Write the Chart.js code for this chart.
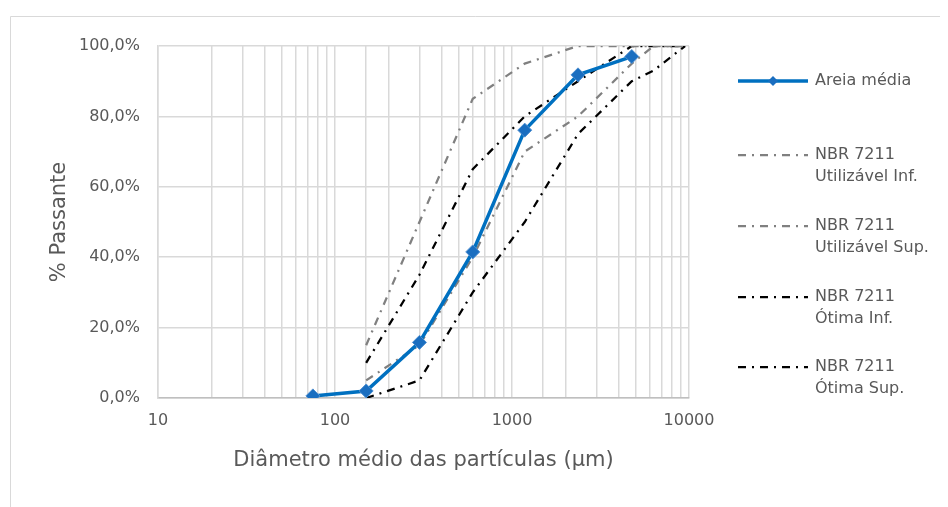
<!DOCTYPE html>
<html>
<head>
<meta charset="utf-8">
<script src="https://cdn.jsdelivr.net/npm/chart.js@4"></script>
<style>
  html, body { margin: 0; padding: 0; background: #fff; }
  #wrap { position: relative; width: 948px; height: 507px; }
</style>
</head>
<body>
<div id="wrap"><canvas id="granChart" width="948" height="507"></canvas></div>
<script>
// Peneiras (µm) e % passante
const sieveSample = [75, 150, 300, 600, 1180, 2360, 4750];
const sieveLimits = [150, 300, 600, 1180, 2360, 4750, 6300, 9500];

const areiaMedia = [0.6, 2.0, 15.8, 41.5, 76.1, 91.8, 97.0];
const utilInf = [15, 50, 85, 95, 100, 100, 100, 100];
const utilSup = [5, 15, 40, 70, 80, 95, 100, 100];
const otimaInf = [10, 35, 65, 80, 90, 100, 100, 100];
const otimaSup = [0, 5, 30, 50, 75, 90, 93, 100];

const xTickLabels = [10, 100, 1000, 10000];
const yTicks = [0, 20, 40, 60, 80, 100];

const FONT = "'DejaVu Sans', sans-serif";
const TEXT = '#595959';
const DASH = [8, 6, 2, 6];

function pts(xs, ys) {
    return xs.map((x, i) => ({ x: x, y: ys[i] }));
}

function limitSet(label, data, color) {
    return {
        label: label,
        data: pts(sieveLimits, data),
        borderColor: color,
        borderWidth: 2.25,
        borderDash: DASH,
        pointRadius: 0,
        fill: false,
        tension: 0
    };
}

// simple legend drawn on the right, two-line labels
const sideLegend = {
    id: 'sideLegend',
    afterDraw(chart) {
        const ctx = chart.ctx;
        const rows = [81, 155, 226, 297, 367];
        ctx.save();
        ctx.font = '16px ' + FONT;
        ctx.fillStyle = TEXT;
        ctx.textBaseline = 'middle';
        chart.data.datasets.forEach((ds, i) => {
            const y = rows[i];
            ctx.beginPath();
            ctx.strokeStyle = ds.borderColor;
            ctx.lineWidth = ds.borderWidth;
            ctx.setLineDash(ds.borderDash || []);
            ctx.moveTo(738, y);
            ctx.lineTo(808, y);
            ctx.stroke();
            ctx.setLineDash([]);
            if (ds.pointRadius) {
                const r = 5;
                ctx.beginPath();
                ctx.moveTo(773, y - r);
                ctx.lineTo(773 + r, y);
                ctx.lineTo(773, y + r);
                ctx.lineTo(773 - r, y);
                ctx.closePath();
                ctx.fillStyle = ds.pointBackgroundColor;
                ctx.fill();
                ctx.fillStyle = TEXT;
            }
            const lines = ds.label.split('\n');
            lines.forEach((t, j) => ctx.fillText(t, 815, y + j * 22));
        });
        ctx.restore();
    }
};

const frame = {
    id: 'frame',
    beforeDraw(chart) {
        const ctx = chart.ctx;
        ctx.save();
        ctx.strokeStyle = '#d9d9d9';
        ctx.lineWidth = 1;
        ctx.beginPath();
        ctx.moveTo(10.5, 507);
        ctx.lineTo(10.5, 16.5);
        ctx.lineTo(940, 16.5);
        ctx.stroke();
        ctx.restore();
    }
};

new Chart(document.getElementById('granChart'), {
    type: 'line',
    data: {
        datasets: [
            {
                label: 'Areia média',
                data: pts(sieveSample, areiaMedia),
                borderColor: '#0070c0',
                borderWidth: 3.5,
                pointStyle: 'rectRot',
                pointRadius: 7,
                pointBackgroundColor: '#1a6ec0',
                pointBorderColor: '#4f8fd0',
                pointBorderWidth: 1,
                fill: false,
                tension: 0,
                order: 0
            },
            limitSet('NBR 7211\nUtilizável Inf.', utilInf, '#808080'),
            limitSet('NBR 7211\nUtilizável Sup.', utilSup, '#808080'),
            limitSet('NBR 7211\nÓtima Inf.', otimaInf, '#000000'),
            limitSet('NBR 7211\nÓtima Sup.', otimaSup, '#000000')
        ]
    },
    options: {
        responsive: false,
        animation: false,
        layout: { padding: { left: 0, right: 259, top: 46, bottom: 0 } },
        plugins: {
            legend: { display: false },
            tooltip: { enabled: false }
        },
        scales: {
            x: {
                type: 'logarithmic',
                min: 10,
                max: 10000,
                afterFit: s => { s.height = 109; },
                grid: { color: '#d9d9d9', lineWidth: 1.5, drawTicks: false },
                border: { color: '#bfbfbf', width: 1.5 },
                ticks: {
                    autoSkip: false,
                    maxRotation: 0,
                    padding: 13,
                    color: TEXT,
                    font: { family: FONT, size: 16 },
                    callback: v => xTickLabels.includes(v) ? String(v) : ''
                },
                title: {
                    display: true,
                    text: 'Diâmetro médio das partículas (µm)',
                    color: TEXT,
                    font: { family: FONT, size: 21 },
                    padding: { top: 0, bottom: 34 }
                }
            },
            y: {
                min: 0,
                max: 100,
                afterFit: s => { s.width = 158; },
                afterBuildTicks: s => { s.ticks = yTicks.map(v => ({ value: v })); },
                grid: { color: '#d9d9d9', lineWidth: 1.5, drawTicks: false },
                border: { color: '#d9d9d9', width: 1.5 },
                ticks: {
                    padding: 18,
                    color: TEXT,
                    font: { family: FONT, size: 16 },
                    callback: v => v.toFixed(1).replace('.', ',') + '%'
                },
                title: {
                    display: true,
                    text: '% Passante',
                    color: TEXT,
                    font: { family: FONT, size: 21 },
                    padding: { top: 47, bottom: 0 }
                }
            }
        }
    },
    plugins: [frame, sideLegend]
});
</script>
</body>
</html>
